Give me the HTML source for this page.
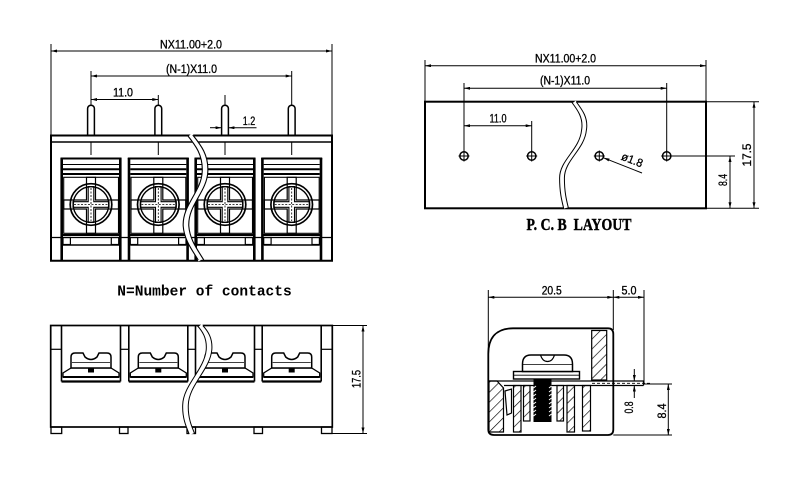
<!DOCTYPE html>
<html><head><meta charset="utf-8"><style>
html,body{margin:0;padding:0;background:#fff;}
svg{display:block;}
text{font-family:"Liberation Sans",sans-serif;fill:#000;}
.d{font-size:11.5px;stroke:#000;stroke-width:0.3;}
</style></head><body>
<svg width="800" height="495" viewBox="0 0 800 495" xmlns="http://www.w3.org/2000/svg">
<defs>
<marker id="ar" viewBox="0 0 8 4" refX="8" refY="2" markerWidth="7" markerHeight="3" markerUnits="userSpaceOnUse" orient="auto-start-reverse"><path d="M0,0 L8,2 L0,4 z" fill="#000"/></marker>
<pattern id="h" patternUnits="userSpaceOnUse" width="7" height="7" patternTransform="rotate(45)"><rect width="7" height="7" fill="#fff"/><line x1="0" y1="0" x2="0" y2="7" stroke="#000" stroke-width="1.3"/></pattern>
<g id="fc" fill="none" stroke="#000">
 <line x1="-29.3" y1="158" x2="-29.3" y2="260.7" stroke-width="2.6"/>
 <line x1="29.3" y1="158" x2="29.3" y2="260.7" stroke-width="2.6"/>
 <line x1="-30.5" y1="158.5" x2="30.5" y2="158.5" stroke-width="2"/>
 <line x1="-28" y1="164.5" x2="28" y2="164.5" stroke-width="1"/>
 <line x1="-28" y1="169.3" x2="28" y2="169.3" stroke-width="2"/>
 <line x1="-28" y1="174" x2="28" y2="174" stroke-width="2"/>
 <rect x="-27.3" y="177.3" width="54.8" height="56" stroke-width="1.1"/>
 <path d="M-4.5,177.3 H4.5 V200 H27.5 V209 H4.5 V233.3 H-4.5 V209 H-27.3 V200 H-4.5 Z" stroke-width="1.2"/>
 <circle cx="0" cy="204.5" r="20.8" stroke-width="1.7"/>
 <circle cx="0" cy="204.5" r="17.8" stroke-width="1.4"/>
 <path d="M-2.8,186.5 H2.8 V201.7 H18 V207.3 H2.8 V222.5 H-2.8 V207.3 H-18 V201.7 H-2.8 Z" stroke-width="1.1"/>
 <line x1="0" y1="188" x2="0" y2="221" stroke-width="0.8" stroke-dasharray="2,1.5"/>
 <line x1="-17" y1="204.5" x2="17" y2="204.5" stroke-width="0.8" stroke-dasharray="2,1.5"/>
 <line x1="-30" y1="235" x2="30" y2="235" stroke-width="2"/>
 <rect x="-28" y="237.5" width="7.4" height="7" stroke-width="1.2"/>
 <rect x="20.3" y="237.5" width="7.4" height="7" stroke-width="1.2"/>
 <line x1="-28" y1="245" x2="28" y2="245" stroke-width="1.6"/>
</g>
<g id="pin" fill="#fff" stroke="#000" stroke-width="1.5">
 <path d="M-3.4,135.5 V108.6 A3.4,3.4 0 0 1 3.4,108.6 V135.5"/>
 <line x1="0" y1="142" x2="0" y2="155" stroke-width="1"/>
</g>
<g id="sc" fill="none" stroke="#000">
 <line x1="-29.5" y1="325.5" x2="-29.5" y2="381.5" stroke-width="1.6"/>
 <line x1="29.5" y1="325.5" x2="29.5" y2="381.5" stroke-width="1.6"/>
 <line x1="-29.5" y1="381.5" x2="29.5" y2="381.5" stroke-width="2.2"/>
 <path d="M-28,377 V373 L-20,368 H20 L28,373 V377 Z" fill="#fff" stroke-width="1.3"/>
 <line x1="-28" y1="377" x2="28" y2="377" stroke-width="2"/>
 <path d="M-20,368 V357 Q-20,353 -16,353 H-8 L-6,357 Q0,362 6,357 L8,353 H16 Q20,353 20,357 V368 Z" fill="#fff" stroke-width="1.5"/>
 <line x1="-19" y1="362.5" x2="19" y2="362.5" stroke-width="0.8"/>
 <rect x="-3" y="368.5" width="6" height="4" fill="#000" stroke="none"/>
</g>
</defs>

<!-- ============ FRONT VIEW (top-left) ============ -->
<g stroke="#000" fill="none">
 <line x1="51" y1="44" x2="51" y2="135" stroke-width="1"/>
 <line x1="332" y1="44" x2="332" y2="135" stroke-width="1"/>
 <line x1="51" y1="51" x2="332" y2="51" stroke-width="1" marker-start="url(#ar)" marker-end="url(#ar)"/>
 <line x1="91" y1="71" x2="91" y2="105" stroke-width="1"/>
 <line x1="291.7" y1="71" x2="291.7" y2="105" stroke-width="1"/>
 <line x1="91" y1="76" x2="291.7" y2="76" stroke-width="1" marker-start="url(#ar)" marker-end="url(#ar)"/>
 <line x1="158.3" y1="95" x2="158.3" y2="105" stroke-width="1"/>
 <line x1="91" y1="99.5" x2="158.3" y2="99.5" stroke-width="1" marker-start="url(#ar)" marker-end="url(#ar)"/>
 <line x1="225" y1="95" x2="225" y2="105" stroke-width="1"/>
 <line x1="210" y1="127.7" x2="221.6" y2="127.7" stroke-width="1" marker-end="url(#ar)"/>
 <line x1="256.5" y1="127.7" x2="228.4" y2="127.7" stroke-width="1" marker-end="url(#ar)"/>
</g>
<text class="d" x="191" y="48.5" text-anchor="middle" textLength="62" lengthAdjust="spacingAndGlyphs">NX11.00+2.0</text>
<text class="d" x="191.5" y="72.8" text-anchor="middle" textLength="51" lengthAdjust="spacingAndGlyphs">(N-1)X11.0</text>
<text class="d" x="123" y="96.3" text-anchor="middle" textLength="20" lengthAdjust="spacingAndGlyphs">11.0</text>
<text class="d" x="249" y="125" text-anchor="middle" textLength="12.5" lengthAdjust="spacingAndGlyphs">1.2</text>

<use href="#pin" transform="translate(91,0)"/>
<use href="#pin" transform="translate(158.3,0)"/>
<use href="#pin" transform="translate(225,0)"/>
<use href="#pin" transform="translate(291.7,0)"/>

<g stroke="#000" fill="none">
 <line x1="50" y1="135.5" x2="333" y2="135.5" stroke-width="2"/>
 <line x1="51" y1="142" x2="332" y2="142" stroke-width="1.5"/>
 <line x1="51" y1="135" x2="51" y2="261.5" stroke-width="2"/>
 <line x1="332" y1="135" x2="332" y2="261.5" stroke-width="2"/>
 <line x1="50" y1="260.7" x2="333" y2="260.7" stroke-width="2"/>
 <line x1="51" y1="237.5" x2="332" y2="237.5" stroke-width="1.2"/>
</g>
<use href="#fc" transform="translate(91,0)"/>
<use href="#fc" transform="translate(158.3,0)"/>
<use href="#fc" transform="translate(225,0)"/>
<use href="#fc" transform="translate(291.7,0)"/>
<g fill="none">
 <path d="M190,135 C198,145 206,155 205,172 C204,192 185,205 186,226 C187,240 195,250 201,260" stroke="#fff" stroke-width="5.5"/>
 <path transform="translate(-2.8,0)" d="M190,135 C198,145 206,155 205,172 C204,192 185,205 186,226 C187,240 195,250 201,260" stroke="#000" stroke-width="1.1"/>
 <path transform="translate(2.8,0)" d="M190,135 C198,145 206,155 205,172 C204,192 185,205 186,226 C187,240 195,250 201,260" stroke="#000" stroke-width="1.1"/>
</g>

<text x="117.3" y="295.5" font-weight="bold" font-size="15" textLength="174.4" lengthAdjust="spacingAndGlyphs" style="font-family:'Liberation Mono',monospace">N=Number of contacts</text>

<!-- ============ PCB LAYOUT ============ -->
<g stroke="#000" fill="none">
 <line x1="425" y1="60" x2="425" y2="101" stroke-width="1"/>
 <line x1="706" y1="60" x2="706" y2="101" stroke-width="1"/>
 <line x1="425" y1="65.7" x2="706" y2="65.7" stroke-width="1" marker-start="url(#ar)" marker-end="url(#ar)"/>
 <line x1="464" y1="83" x2="464" y2="151" stroke-width="1"/>
 <line x1="666.7" y1="83" x2="666.7" y2="151" stroke-width="1"/>
 <line x1="464" y1="88.3" x2="666.7" y2="88.3" stroke-width="1" marker-start="url(#ar)" marker-end="url(#ar)"/>
 <line x1="531.7" y1="121" x2="531.7" y2="151" stroke-width="1"/>
 <line x1="464" y1="125.7" x2="531.7" y2="125.7" stroke-width="1" marker-start="url(#ar)" marker-end="url(#ar)"/>
 <rect x="425" y="101.7" width="281" height="106.6" stroke-width="2"/>
 <line x1="706" y1="101.7" x2="759" y2="101.7" stroke-width="1"/>
 <line x1="706" y1="208.3" x2="759" y2="208.3" stroke-width="1"/>
 <line x1="754" y1="101.7" x2="754" y2="208.3" stroke-width="1" marker-start="url(#ar)" marker-end="url(#ar)"/>
 <line x1="672" y1="156" x2="735" y2="156" stroke-width="1"/>
 <line x1="730" y1="156" x2="730" y2="208.3" stroke-width="1" marker-start="url(#ar)" marker-end="url(#ar)"/>
 <line x1="642" y1="173" x2="603.5" y2="157.8" stroke-width="1" marker-end="url(#ar)"/>
</g>
<g stroke="#000" fill="none" stroke-width="1.5">
 <circle cx="464" cy="156" r="4.2"/><line x1="458.5" y1="156" x2="469.5" y2="156" stroke-width="1"/><line x1="464" y1="150.5" x2="464" y2="161.5" stroke-width="1"/>
 <circle cx="531.7" cy="156" r="4.2"/><line x1="526.2" y1="156" x2="537.2" y2="156" stroke-width="1"/><line x1="531.7" y1="150.5" x2="531.7" y2="161.5" stroke-width="1"/>
 <circle cx="599.3" cy="156" r="4.2"/><line x1="593.8" y1="156" x2="604.8" y2="156" stroke-width="1"/><line x1="599.3" y1="150.5" x2="599.3" y2="161.5" stroke-width="1"/>
 <circle cx="666.7" cy="156" r="4.2"/><line x1="661.2" y1="156" x2="672.2" y2="156" stroke-width="1"/><line x1="666.7" y1="150.5" x2="666.7" y2="161.5" stroke-width="1"/>
</g>
<g fill="none">
 <path d="M574,102 C580,110 586,118 584,130 C582,150 562,160 562,178 C562,192 564,200 566,208" stroke="#fff" stroke-width="4"/>
 <path transform="translate(-2.4,0)" d="M574,102 C580,110 586,118 584,130 C582,150 562,160 562,178 C562,192 564,200 566,208" stroke="#000" stroke-width="1"/>
 <path transform="translate(2.4,0)" d="M574,102 C580,110 586,118 584,130 C582,150 562,160 562,178 C562,192 564,200 566,208" stroke="#000" stroke-width="1"/>
</g>
<text class="d" x="565.5" y="62.5" text-anchor="middle" textLength="61" lengthAdjust="spacingAndGlyphs">NX11.00+2.0</text>
<text class="d" x="565" y="84.5" text-anchor="middle" textLength="50" lengthAdjust="spacingAndGlyphs">(N-1)X11.0</text>
<text class="d" x="498" y="122.3" text-anchor="middle" textLength="17" lengthAdjust="spacingAndGlyphs">11.0</text>
<text class="d" transform="translate(620.5,159.5) rotate(21)" textLength="22" lengthAdjust="spacingAndGlyphs">ø1.8</text>
<text class="d" transform="translate(751,155) rotate(-90)" text-anchor="middle" textLength="23" lengthAdjust="spacingAndGlyphs">17.5</text>
<text class="d" transform="translate(727,180) rotate(-90)" text-anchor="middle" textLength="12" lengthAdjust="spacingAndGlyphs">8.4</text>
<text x="579" y="230" font-size="17" font-weight="bold" text-anchor="middle" textLength="105" lengthAdjust="spacingAndGlyphs" style="font-family:'Liberation Serif',serif" stroke="#000" stroke-width="0.4">P. C. B&#160;&#160;LAYOUT</text>

<!-- ============ SIDE VIEW (bottom-left) ============ -->
<g stroke="#000" fill="none">
 <rect x="50.7" y="325.5" width="281.6" height="101.5" stroke-width="1.7"/>
 <rect x="51" y="427" width="10.7" height="6.5" stroke-width="1.3"/>
 <rect x="119.5" y="427" width="8.5" height="6.5" stroke-width="1.3"/>
 <rect x="187" y="427" width="8.5" height="6.5" stroke-width="1.3"/>
 <rect x="254" y="427" width="8.5" height="6.5" stroke-width="1.3"/>
 <rect x="321.5" y="427" width="10.5" height="6.5" stroke-width="1.3"/>
 <line x1="50.7" y1="349.3" x2="61.5" y2="349.3" stroke-width="1.2"/>
 <line x1="120.5" y1="349.3" x2="128.8" y2="349.3" stroke-width="1.2"/>
 <line x1="187.8" y1="349.3" x2="195.5" y2="349.3" stroke-width="1.2"/>
 <line x1="254.5" y1="349.3" x2="262.2" y2="349.3" stroke-width="1.2"/>
 <line x1="321.2" y1="349.3" x2="332.3" y2="349.3" stroke-width="1.2"/>
 <line x1="332" y1="325.5" x2="367" y2="325.5" stroke-width="1"/>
 <line x1="332" y1="433.5" x2="367" y2="433.5" stroke-width="1"/>
 <line x1="363" y1="325.5" x2="363" y2="433.5" stroke-width="1" marker-start="url(#ar)" marker-end="url(#ar)"/>
</g>
<use href="#sc" transform="translate(91,0)"/>
<use href="#sc" transform="translate(158.3,0)"/>
<use href="#sc" transform="translate(225,0)"/>
<use href="#sc" transform="translate(291.7,0)"/>
<g fill="none">
 <path d="M200,325.5 C205,331 210,338 209,350 C207,370 186,385 185.5,405 C185,418 189,427 192,434" stroke="#fff" stroke-width="5"/>
 <path transform="translate(-2.8,0)" d="M200,325.5 C205,331 210,338 209,350 C207,370 186,385 185.5,405 C185,418 189,427 192,434" stroke="#000" stroke-width="1"/>
 <path transform="translate(2.8,0)" d="M200,325.5 C205,331 210,338 209,350 C207,370 186,385 185.5,405 C185,418 189,427 192,434" stroke="#000" stroke-width="1"/>
</g>
<text class="d" transform="translate(360.5,379) rotate(-90)" text-anchor="middle" textLength="18" lengthAdjust="spacingAndGlyphs">17.5</text>

<!-- ============ SECTION VIEW (bottom-right) ============ -->
<g stroke="#000" fill="none">
 <line x1="488.3" y1="290" x2="488.3" y2="355" stroke-width="1"/>
 <line x1="613.3" y1="290" x2="613.3" y2="330" stroke-width="1"/>
 <line x1="644" y1="290" x2="644" y2="384" stroke-width="1"/>
 <line x1="488.3" y1="297.3" x2="613.3" y2="297.3" stroke-width="1" marker-start="url(#ar)" marker-end="url(#ar)"/>
 <line x1="613.3" y1="297.3" x2="644" y2="297.3" stroke-width="1" marker-start="url(#ar)" marker-end="url(#ar)"/>
 <path d="M488.3,354 C488.3,337 497,328.3 513,328.3 H608 Q613.3,328.3 613.3,334 V429.5 Q613.3,435 608,435 H494 Q488.3,435 488.3,429.5 Z" stroke-width="1.8"/>
 <rect x="591.7" y="330.5" width="15" height="49.5" fill="url(#h)" stroke-width="1.2"/>
 <polygon points="489,381 497,381 503.5,388 503.5,432 489,432" fill="url(#h)" stroke-width="1.2"/>
 <polygon points="505,391 511.5,389 511.5,413 507,415" fill="#fff" stroke-width="1.2"/>
 <rect x="513.5" y="385.5" width="7.5" height="46.5" fill="url(#h)" stroke-width="1.2"/>
 <rect x="523.5" y="385.5" width="6.5" height="35.5" fill="url(#h)" stroke-width="1.2"/>
 <rect x="557" y="385.5" width="6.5" height="35.5" fill="url(#h)" stroke-width="1.2"/>
 <rect x="567" y="385.5" width="7.5" height="46.5" fill="url(#h)" stroke-width="1.2"/>
 <rect x="582.5" y="385.5" width="8" height="45.5" fill="url(#h)" stroke-width="1.2"/>
 <line x1="488.3" y1="381" x2="643.5" y2="381" stroke-width="1.3"/>
 <line x1="504" y1="385.5" x2="643.5" y2="385.5" stroke-width="1.3"/>
 <line x1="643.5" y1="381" x2="643.5" y2="385.5" stroke-width="1.3"/>
 <line x1="592" y1="383.3" x2="650" y2="383.3" stroke-width="0.8" stroke-dasharray="3,2"/>
 <rect x="533.5" y="379" width="18" height="43" fill="#000" stroke="none"/>
 <g stroke="#fff" stroke-width="1">
  <line x1="533.5" y1="388" x2="536" y2="386"/><line x1="533.5" y1="392" x2="536" y2="390"/><line x1="533.5" y1="396" x2="536" y2="394"/><line x1="533.5" y1="400" x2="536" y2="398"/><line x1="533.5" y1="404" x2="536" y2="402"/><line x1="533.5" y1="408" x2="536" y2="406"/><line x1="533.5" y1="412" x2="536" y2="410"/><line x1="533.5" y1="416" x2="536" y2="414"/>
  <line x1="549" y1="388" x2="551.5" y2="386"/><line x1="549" y1="392" x2="551.5" y2="390"/><line x1="549" y1="396" x2="551.5" y2="394"/><line x1="549" y1="400" x2="551.5" y2="398"/><line x1="549" y1="404" x2="551.5" y2="402"/><line x1="549" y1="408" x2="551.5" y2="406"/><line x1="549" y1="412" x2="551.5" y2="410"/><line x1="549" y1="416" x2="551.5" y2="414"/>
 </g>
 <rect x="513.5" y="371.5" width="66" height="7.5" fill="#fff" stroke-width="1.4"/>
 <line x1="514" y1="375.2" x2="579" y2="375.2" stroke-width="0.8"/>
 <path d="M522.5,371.5 V364 Q522.5,355 531,355 H564 Q572.5,355 572.5,364 V371.5 Z" fill="#fff" stroke-width="1.5"/>
 <path d="M540.5,355 Q542.5,361.5 547.5,361.5 Q552.5,361.5 554.5,355" stroke-width="1.2"/>
 <line x1="523" y1="364.5" x2="572" y2="364.5" stroke-width="0.8"/>
 <line x1="634.3" y1="369" x2="634.3" y2="381" stroke-width="1" marker-end="url(#ar)"/>
 <line x1="634.3" y1="398" x2="634.3" y2="385.5" stroke-width="1" marker-end="url(#ar)"/>
 <line x1="644" y1="384" x2="672" y2="384" stroke-width="1"/>
 <line x1="613.3" y1="435" x2="672" y2="435" stroke-width="1"/>
 <line x1="668.3" y1="384" x2="668.3" y2="435" stroke-width="1" marker-start="url(#ar)" marker-end="url(#ar)"/>
</g>
<text class="d" x="551.7" y="294.3" text-anchor="middle" textLength="20" lengthAdjust="spacingAndGlyphs">20.5</text>
<text class="d" x="629" y="294.3" text-anchor="middle" textLength="15" lengthAdjust="spacingAndGlyphs">5.0</text>
<text class="d" transform="translate(633,407.5) rotate(-90)" text-anchor="middle" textLength="12" lengthAdjust="spacingAndGlyphs">0.8</text>
<text class="d" transform="translate(666,411) rotate(-90)" text-anchor="middle" textLength="15" lengthAdjust="spacingAndGlyphs">8.4</text>
</svg>
</body></html>
